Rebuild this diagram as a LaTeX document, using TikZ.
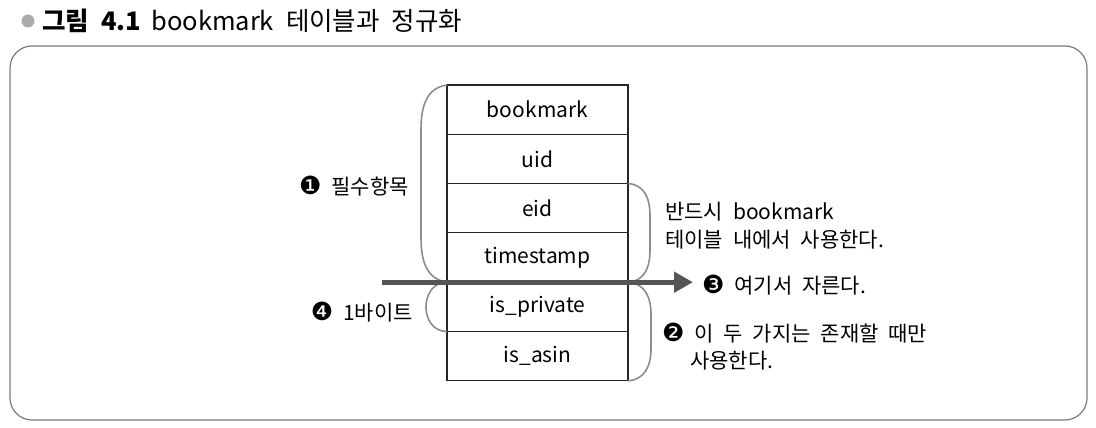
\documentclass[tikz,border=0pt]{standalone}
\usepackage{fontspec}
\setmainfont[WordSpace=2.1]{Noto Sans CJK KR}
\newfontfamily\symfont{DejaVu Sans}
\usetikzlibrary{arrows.meta, positioning, calc}

\definecolor{bracegray}{HTML}{8C8C8C}
\definecolor{framegray}{HTML}{7A7A7A}
\definecolor{cutgray}{HTML}{555555}

\newcommand{\cnum}[1]{{\symfont\fontsize{25}{25}\selectfont #1}}

\begin{document}
\begin{tikzpicture}[x=1pt, y=1pt,
    every node/.style={font=\fontsize{21}{28}\selectfont, inner sep=0pt},
    field/.style={rectangle, draw=black!85, line width=1.2pt, outer sep=0pt,
                  minimum width=181pt, minimum height=49.3pt},
    paren/.style={draw=bracegray, line width=1.6pt},
    cutarrow/.style={draw=cutgray, line width=5pt,
                     -{Triangle[length=19pt, width=20pt]}},
    note/.style={anchor=west, align=left}
]
\useasboundingbox (0,0) rectangle (1096,428);

% --- title ---
\node[circle, fill=black!33, minimum size=13pt] (dot) at (28,407) {};
\node[anchor=west, font=\fontsize{25.5}{25.5}\selectfont] (ttl) at (42,407)
  {\textbf{그림 4.1}\hspace{10pt}bookmark 테이블과 정규화};

% --- frame ---
\draw[framegray, line width=1.2pt, rounded corners=22pt] (10,8) rectangle (1087,382);

% --- table ---
\node[field] (bm) at (537.5,318.35) {bookmark};
\node[field, below=0pt of bm]   (uid)  {uid};
\node[field, below=0pt of uid]  (eid)  {eid};
\node[field, below=0pt of eid]  (ts)   {timestamp};
\node[field, below=0pt of ts]   (priv) {is\_private};
\node[field, below=0pt of priv] (asin) {is\_asin};

% --- braces ---
\draw[paren] (bm.north west) .. controls +(-20,-3) and +(0,25) .. ($(bm.north west)+(-26,-45)$)
  -- ($(ts.south west)+(-26,45)$) .. controls +(0,-25) and +(-20,3) .. (ts.south west);
\draw[paren] (priv.north west) .. controls +(-28,0) and +(-28,0) .. (priv.south west);
\draw[paren] (eid.north east) .. controls +(16,-1) and +(0,18) .. ($(eid.north east)+(22,-32)$)
  -- ($(ts.south east)+(22,32)$) .. controls +(0,-18) and +(16,1) .. (ts.south east);
\draw[paren] (priv.north east) .. controls +(16,-1) and +(0,18) .. ($(priv.north east)+(23,-32)$)
  -- ($(asin.south east)+(23,32)$) .. controls +(0,-18) and +(16,1) .. (asin.south east);

% --- labels ---
\node[anchor=east] (need) at (409,242) {\cnum{❶} 필수항목};
\node[anchor=east] (byte) at (413,116) {\cnum{❹} 1바이트};
\node[note] (must) at (665,202) {반드시 bookmark\\테이블 내에서 사용한다.};
\node[anchor=west] (cut) at (702,143) {\cnum{❸} 여기서 자른다.};
\node[note, font=\fontsize{21}{27}\selectfont] (opt) at (662,81)
  {\cnum{❷} 이 두 가지는 존재할 때만\\\hspace*{28pt}사용한다.};

% --- cut line ---
\coordinate (cutL) at ($(ts.south west)+(-65,0)$);
\draw[cutarrow, shorten >=9pt] (cutL) -- (cutL -| cut.west);

\end{tikzpicture}
\end{document}
